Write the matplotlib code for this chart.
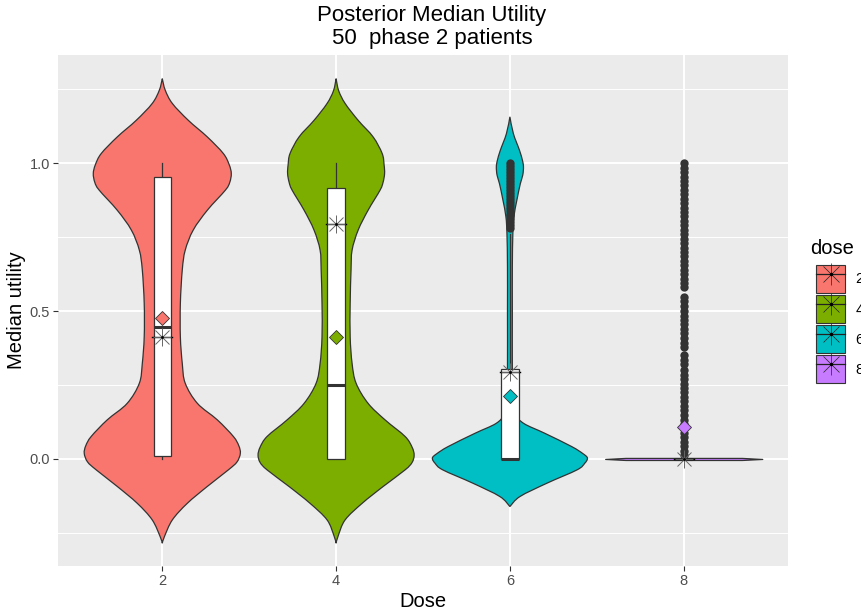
import numpy as np
import matplotlib
matplotlib.use('Agg')
import matplotlib.pyplot as plt
from matplotlib.patches import Rectangle, Patch, PathPatch
from matplotlib.path import Path
from matplotlib.lines import Line2D
from matplotlib.legend_handler import HandlerTuple

plt.rcParams['font.family'] = ['Liberation Sans', 'DejaVu Sans']

doses = ['2', '4', '6', '8']
colors = ['#F8766D', '#7CAE00', '#00BFC4', '#C77CFF']

# violin outlines: y value and half width (x units)
violin2_y = [1.286, 1.247, 1.202, 1.145, 1.089, 1.033, 0.995, 0.965, 0.935, 0.909, 0.841, 0.774, 0.706,
             0.639, 0.526, 0.413, 0.323, 0.256, 0.188, 0.132, 0.076, 0.045, 0.019, -0.010, -0.037,
             -0.093, -0.150, -0.206, -0.263, -0.285]
violin2_hw = [0.0, 0.017, 0.058, 0.150, 0.259, 0.351, 0.385, 0.397, 0.388, 0.363, 0.259, 0.178, 0.132,
              0.115, 0.104, 0.104, 0.115, 0.132, 0.202, 0.317, 0.409, 0.440, 0.449, 0.430, 0.380,
              0.259, 0.144, 0.058, 0.012, 0.0]
violin4_y = [1.286, 1.245, 1.202, 1.145, 1.089, 1.033, 0.995, 0.965, 0.935, 0.909, 0.841, 0.774, 0.706,
             0.639, 0.526, 0.413, 0.323, 0.256, 0.188, 0.132, 0.076, 0.040, 0.013, -0.012, -0.037,
             -0.093, -0.150, -0.206, -0.260, -0.285]
violin4_hw = [0.0, 0.015, 0.052, 0.127, 0.213, 0.265, 0.276, 0.279, 0.270, 0.253, 0.184, 0.127, 0.092,
              0.086, 0.081, 0.081, 0.092, 0.115, 0.184, 0.282, 0.397, 0.437, 0.449, 0.437, 0.397,
              0.271, 0.150, 0.052, 0.012, 0.0]
violin6_y = [1.157, 1.100, 1.044, 1.010, 0.988, 0.960, 0.931, 0.875, 0.819, 0.762, 0.650, 0.500, 0.310,
             0.200, 0.150, 0.120, 0.087, 0.042, 0.018, 0.003, -0.015, -0.037, -0.082, -0.127, -0.161]
violin6_hw = [0.0, 0.020, 0.055, 0.072, 0.078, 0.074, 0.060, 0.040, 0.023, 0.017, 0.014, 0.014, 0.014,
              0.017, 0.035, 0.080, 0.200, 0.355, 0.420, 0.446, 0.430, 0.386, 0.213, 0.058, 0.0]
violin8_y = [-0.0035, 0.0, 0.0035]
violin8_hw = [0.335, 0.452, 0.335]

# boxplot stats: low whisker, q1, median, q3, high whisker
box_lo = [0.0, 0.0, 0.0, 0.0]
box_q1 = [0.01, 0.0, 0.0, 0.0]
box_med = [0.447, 0.25, 0.0, 0.0]
box_q3 = [0.955, 0.915, 0.305, 0.0]
box_hi = [1.0, 1.0, 0.76, 0.0]

outliers6 = [1.000, 0.990, 0.980, 0.970, 0.960, 0.950, 0.940, 0.930, 0.920, 0.910, 0.900, 0.890,
             0.880, 0.870, 0.860, 0.850, 0.840, 0.830, 0.820, 0.810, 0.800, 0.790, 0.780]
outliers8 = [1.000, 0.985, 0.970, 0.955, 0.940, 0.925, 0.910, 0.895, 0.880, 0.865, 0.850, 0.835,
             0.820, 0.805, 0.790, 0.775, 0.760, 0.745, 0.730, 0.715, 0.700, 0.685, 0.670, 0.655,
             0.640, 0.625, 0.610, 0.595, 0.580, 0.548, 0.533, 0.518, 0.500, 0.485, 0.470, 0.455,
             0.440, 0.425, 0.410, 0.393, 0.378, 0.350, 0.335, 0.320, 0.300, 0.285, 0.270, 0.255,
             0.240, 0.225, 0.210, 0.195, 0.180, 0.165, 0.150, 0.133, 0.118, 0.103, 0.088, 0.073,
             0.058, 0.043, 0.028, 0.013]

means = [0.478, 0.413, 0.213, 0.108]
stars = [0.412, 0.794, 0.294, 0.0]

violins = [(violin2_y, violin2_hw), (violin4_y, violin4_hw), (violin6_y, violin6_hw), (violin8_y, violin8_hw)]
outliers = [[], [], outliers6, outliers8]

dark = '#333333'


def spline_side(pts):
    # smooth curve through the given outline points (Catmull-Rom as bezier)
    p = np.vstack([pts[0], pts, pts[-1]])
    verts, codes = [], []
    for i in range(1, len(p) - 2):
        c1 = p[i] + (p[i + 1] - p[i - 1]) / 6.0
        c2 = p[i + 1] - (p[i + 2] - p[i]) / 6.0
        verts += [c1, c2, p[i + 1]]
        codes += [Path.CURVE4] * 3
    return verts, codes


def violin_path(x, vy, vw):
    right = np.column_stack([x + vw, vy])
    left = np.column_stack([x - vw, vy])[::-1]
    v1, c1 = spline_side(right)
    v2, c2 = spline_side(left)
    verts = [right[0]] + v1 + [left[0]] + v2 + [right[0]]
    codes = [Path.MOVETO] + c1 + [Path.LINETO] + c2 + [Path.CLOSEPOLY]
    return Path(verts, codes)


fig = plt.figure(figsize=(8.62, 6.16), dpi=100)
ax = fig.add_axes([58 / 862, 1 - 566 / 616, 730 / 862, 511 / 616])
ax.set_facecolor('#EBEBEB')
for spine in ax.spines.values():
    spine.set_visible(False)

ax.set_xlim(0.4, 4.6)
ax.set_ylim(-0.362, 1.366)
ax.set_xticks(range(1, 5))
ax.set_xticklabels(doses)
ax.set_yticks([0.0, 0.5, 1.0])
ax.set_yticklabels(['0.0', '0.5', '1.0'])
ax.set_yticks([-0.25, 0.25, 0.75, 1.25], minor=True)
ax.tick_params(axis='both', which='major', length=3.6, width=0.8, color=dark,
               labelcolor='#4D4D4D', labelsize=10.5, pad=2)
ax.tick_params(axis='y', which='minor', length=0)
ax.grid(which='major', color='white', lw=1.4)
ax.grid(which='minor', axis='y', color='white', lw=0.7)
ax.set_axisbelow(True)

for i in range(4):
    x = i + 1
    vy = np.array(violins[i][0])
    vw = np.array(violins[i][1])
    if i < 3:
        ax.add_patch(PathPatch(violin_path(x, vy, vw), facecolor=colors[i], edgecolor=dark,
                               lw=0.9, zorder=2))
    else:
        ax.fill_betweenx(vy, x - vw, x + vw, facecolor=colors[i], edgecolor=dark, lw=0.9, zorder=2)

    # boxplot
    ax.plot([x, x], [box_q3[i], box_hi[i]], color=dark, lw=0.9, zorder=3)
    ax.plot([x, x], [box_lo[i], box_q1[i]], color=dark, lw=0.9, zorder=3)
    ax.add_patch(Rectangle((x - 0.05, box_q1[i]), 0.1, box_q3[i] - box_q1[i],
                           facecolor='white', edgecolor=dark, lw=0.9, zorder=3))
    ax.plot([x - 0.05, x + 0.05], [box_med[i], box_med[i]], color=dark, lw=2.2,
            solid_capstyle='butt', zorder=4)
    if outliers[i]:
        ax.plot([x] * len(outliers[i]), outliers[i], 'o', ms=6, color=dark, mew=0, zorder=4)

    # mean
    ax.plot(x, means[i], 'D', ms=7, markerfacecolor=colors[i], markeredgecolor=dark, mew=0.6, zorder=6)

    # star summary
    ax.plot([x - 0.058, x + 0.058], [stars[i], stars[i]], color='black', lw=1.0, zorder=6)
    ax.plot(x, stars[i], '+', ms=13, mew=0.7, color='#666666', zorder=6)
    ax.plot(x, stars[i], 'x', ms=9.5, mew=0.7, color='#666666', zorder=6)
    ax.plot(x, stars[i], 'o', ms=2, mew=0, color='black', zorder=7)

ax.set_xlabel('Dose', fontsize=14.5, labelpad=3)
ax.set_ylabel('Median utility', fontsize=14.5, labelpad=3)
fig.text(432 / 862, 1 - 27 / 616, 'Posterior Median Utility\n50  phase 2 patients', fontsize=16,
         ha='center', va='center', linespacing=1.12)

# legend
fig.text(810 / 862, 1 - 248 / 616, 'dose', fontsize=14.5, ha='left', va='center')
handles = []
for c in colors:
    handles.append((Patch(facecolor=c, edgecolor=dark, lw=0.8),
                    Line2D([], [], color='#222222', lw=0.9, marker='+', ms=16, mew=0.5),
                    Line2D([], [], ls='none', color='#222222', marker='x', ms=11, mew=0.5),
                    Line2D([], [], ls='none', color='black', marker='o', ms=2.5, mew=0)))
leg = fig.legend(handles, doses, loc='upper left', bbox_to_anchor=(816 / 862, 1 - 265 / 616),
                 handler_map={tuple: HandlerTuple(ndivide=1, pad=0)}, frameon=False,
                 fontsize=10.5, handlelength=2.0, handleheight=2.58, labelspacing=0.14,
                 handletextpad=0.7, borderpad=0, borderaxespad=0)

plt.savefig('out.png', dpi=100)
